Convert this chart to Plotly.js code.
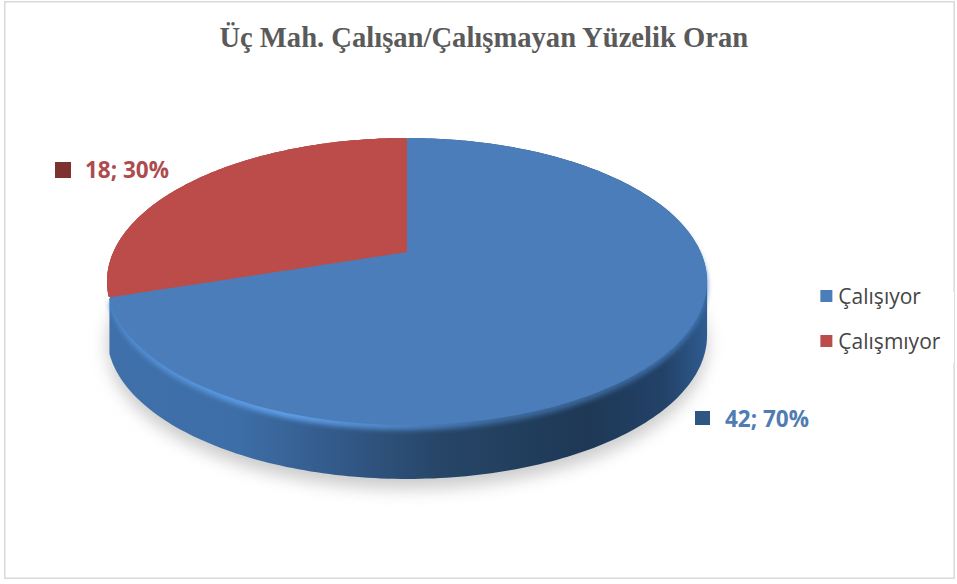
<!DOCTYPE html>
<html><head><meta charset="utf-8">
<script src="https://cdn.plot.ly/plotly-3.0.1.min.js"></script>
<style>html,body{margin:0;padding:0;background:#fff}#c{width:957px;height:584px}</style>
</head><body><div id="c"></div>
<script>
const categories = ['Çalışıyor', 'Çalışmıyor'];
const counts = [42, 18];
const sliceColors = ['#4a7dba', '#bb4c49'];
const titleText = 'Üç Mah. Çalışan/Çalışmayan Yüzelik Oran';
const total = counts.reduce((a, b) => a + b, 0);
const labelText = counts.map((v, i) => v + '; ' + Math.round(v / total * 100) + '%');

const common = {type: 'pie', values: counts, labels: categories, sort: false, direction: 'clockwise',
  rotation: 0, textinfo: 'none', hoverinfo: 'skip', domain: {x: [0.1, 0.75], y: [0.1, 0.9]}};
const traces = [
  Object.assign({}, common, {showlegend: false, marker: {colors: ['#cfcfcf', '#cfcfcf'], line: {width: 0}}}),
  Object.assign({}, common, {showlegend: false, marker: {colors: ['#2f5680', '#bb4c49'], line: {width: 0}}}),
  Object.assign({}, common, {showlegend: false, marker: {colors: ['#5b9ae0', '#bb4c49'], line: {width: 0}}}),
  Object.assign({}, common, {showlegend: true, marker: {colors: sliceColors, line: {width: 0}}})
];
const px = (x0, y0, x1, y1, fill) => ({type: 'rect', xref: 'paper', yref: 'paper',
  x0: x0 / 957, x1: x1 / 957, y0: 1 - y0 / 584, y1: 1 - y1 / 584, fillcolor: fill, line: {width: 0}});
const layout = {
  width: 957, height: 584, margin: {l: 0, r: 0, t: 0, b: 0},
  paper_bgcolor: '#ffffff',
  title: {text: titleText, x: 0.5055, xanchor: 'center', y: 0.936, yanchor: 'middle',
    font: {family: '"Liberation Serif", serif', size: 28.6, color: '#5a5a5a', weight: 'bold'}},
  showlegend: true,
  legend: {x: 0.8426, xanchor: 'left', y: 0.5, yanchor: 'top', traceorder: 'normal',
    font: {family: '"Open Sans", sans-serif', size: 21, color: '#454545'}, itemwidth: 30},
  shapes: [
    {type: 'rect', xref: 'paper', yref: 'paper', x0: 0.005, x1: 0.997, y0: 0.01, y1: 0.997,
     line: {color: '#d9d9d9', width: 1.5}, fillcolor: 'rgba(0,0,0,0)'},
    px(55, 162, 71, 178, '#7d3230'), px(695, 411, 710, 425, '#2f5680')
  ],
  annotations: [
    {xref: 'paper', yref: 'paper', x: 83 / 957, y: 1 - 170 / 584, xanchor: 'left', yanchor: 'middle', showarrow: false,
     text: '<b>' + labelText[1] + '</b>', font: {family: '"Open Sans", sans-serif', size: 22.5, color: '#ae4b4d'}},
    {xref: 'paper', yref: 'paper', x: 723 / 957, y: 1 - 418 / 584, xanchor: 'left', yanchor: 'middle', showarrow: false,
     text: '<b>' + labelText[0] + '</b>', font: {family: '"Open Sans", sans-serif', size: 22.5, color: '#4f7db2'}}
  ]
};

Plotly.newPlot('c', traces, layout, {displayModeBar: false, staticPlot: true}).then(gd => {
  // The slices stay Plotly's: each outline is re-projected in perspective, as the tilted reference disc.
  const NS = 'http://www.w3.org/2000/svg';
  const svg = gd.querySelector('.main-svg');
  const defs = svg.querySelector('defs') || svg.insertBefore(document.createElementNS(NS, 'defs'), svg.firstChild);
  const addGrad = (id, stops) => {
    const g = document.createElementNS(NS, 'linearGradient');
    g.setAttribute('id', id); g.setAttribute('gradientUnits', 'userSpaceOnUse');
    g.setAttribute('x1', 107); g.setAttribute('x2', 707); g.setAttribute('y1', 0); g.setAttribute('y2', 0);
    stops.forEach(([o, c]) => { const s = document.createElementNS(NS, 'stop');
      s.setAttribute('offset', o); s.setAttribute('stop-color', c); g.appendChild(s); });
    defs.appendChild(g);
  };
  addGrad('wallBlue', [[0, '#3f70aa'], [0.22, '#3d6ea7'], [0.38, '#335a8a'], [0.55, '#274668'], [0.8, '#1e3855'], [0.93, '#234268'], [1, '#2f5c90']]);
  addGrad('rimBlue', [[0, '#4f8ad0'], [0.3, '#5f9fe8'], [0.48, '#4f86c6'], [0.65, '#3d6a9e'], [0.85, '#3a6598'], [1, '#3f76b4']]);
  const addBlur = (id, sd) => {
    const f = document.createElementNS(NS, 'filter');
    f.setAttribute('id', id); f.setAttribute('x', '-10%'); f.setAttribute('y', '-10%');
    f.setAttribute('width', '120%'); f.setAttribute('height', '120%');
    const fe = document.createElementNS(NS, 'feGaussianBlur'); fe.setAttribute('stdDeviation', sd);
    f.appendChild(fe); defs.appendChild(f);
  };
  addBlur('soft', 8); addBlur('rimSoft', 2.5);

  const cd = gd.calcdata[0][0];
  const k = 0.2055, X0 = 407, Y0 = 252, cx = 293.6, bx = 137.4;
  const project = (x, y) => {
    const u = (x - cd.cx) / cd.r, v = (y - cd.cy) / cd.r, d = 1 - k * v;
    return [X0 + cx * u / d, Y0 + bx * v / d];
  };
  const outline = (p, dy) => {
    const L = p.getTotalLength(), n = 360; let s = '';
    for (let i = 0; i <= n; i++) {
      const q = p.getPointAtLength(L * i / n), m = project(q.x, q.y);
      s += (i ? 'L' : 'M') + m[0].toFixed(1) + ',' + (m[1] + dy).toFixed(1);
    }
    return s + 'Z';
  };
  const groups = gd.querySelectorAll('.pielayer .trace');
  const shapeTrace = (g, shiftsFor, style) => {
    g.querySelectorAll('.slice path.surface').forEach((p, i) => {
      p.setAttribute('d', shiftsFor(i).map(dy => outline(p, dy)).join(''));
      style(p, i);
    });
  };
  shapeTrace(groups[0], () => [64], p => { p.style.fill = '#cccccc'; p.setAttribute('filter', 'url(#soft)'); });
  const sweep = []; for (let s = 0; s <= 55; s += 1.5) sweep.push(s);
  shapeTrace(groups[1], i => i === 0 ? sweep : [0], (p, i) => { if (i === 0) { p.style.fill = 'url(#wallBlue)'; } });
  shapeTrace(groups[2], i => i === 0 ? [5] : [0], (p, i) => { if (i === 0) { p.style.fill = 'url(#rimBlue)'; p.setAttribute('filter', 'url(#rimSoft)'); } });
  shapeTrace(groups[3], () => [0], () => {});
  // Legend rows sit further apart than one text line, and the text sits closer to its swatch
  gd.querySelectorAll('.legend .scrollbox').forEach(s => s.removeAttribute('clip-path'));
  gd.querySelectorAll('.legend .traces').forEach((t, i) => {
    t.setAttribute('transform', 'translate(0,' + (4 + i * 45) + ')');
    const tx = t.querySelector('.legendtext');
    if (tx) {
      const x = parseFloat(tx.getAttribute('x')) - 8;
      tx.setAttribute('x', x);
      tx.querySelectorAll('tspan').forEach(sp => { if (sp.hasAttribute('x')) sp.setAttribute('x', x); });
    }
  });
});
</script></body></html>
